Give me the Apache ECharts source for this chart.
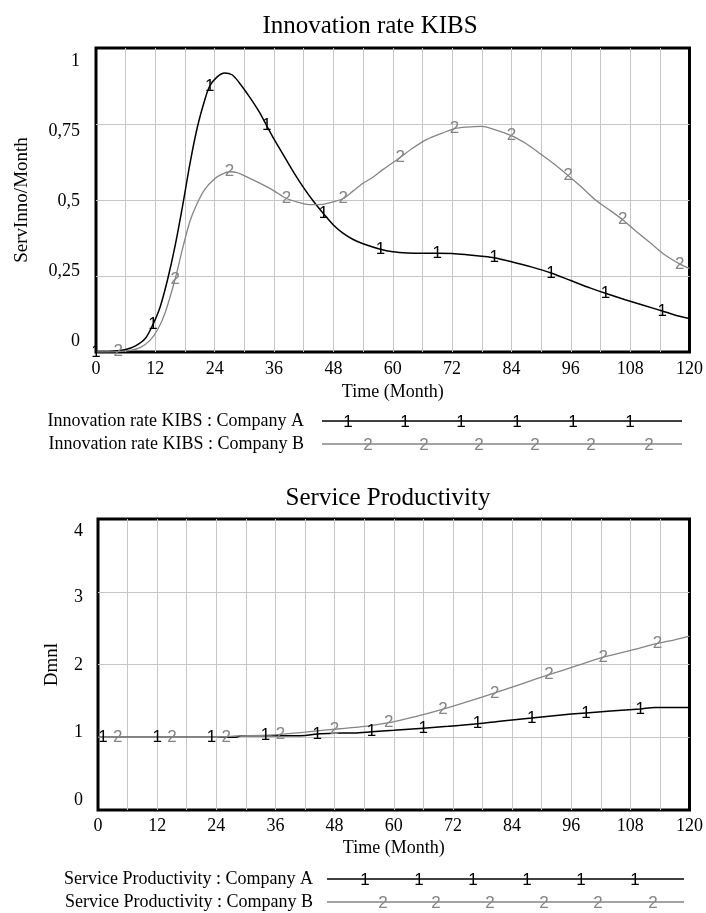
<!DOCTYPE html>
<html>
<head>
<meta charset="utf-8">
<title>Innovation rate KIBS / Service Productivity</title>
<script src="https://cdn.jsdelivr.net/npm/echarts@6/dist/echarts.min.js"></script>
<style>
  html, body { margin: 0; padding: 0; background: #fff; }
  #chart { width: 706px; height: 913px; }
</style>
</head>
<body>
<div id="chart"></div>
<script>
// time axis, shared by both panels
const monthTicks = [0, 12, 24, 36, 48, 60, 72, 84, 96, 108, 120]
const innoTickLabels = ['0', '0,25', '0,5', '0,75', '1']
const prodTickLabels = ['0', '1', '2', '3', '4']

// Innovation rate KIBS (ServInno/Month)
const innoMonthsA = [0, 3, 6, 8, 10, 11.5, 13, 14.5, 16, 17.5, 19, 20.5, 22, 23, 24.5, 26, 27.5, 29, 31, 33, 34.5, 36, 38, 40, 42, 44, 46, 48, 50, 52, 54, 57.5, 60, 63, 66, 69, 72, 75, 78, 80.5, 84, 88, 92, 96, 100, 103, 107, 111, 114.5, 117, 120]
const innoValuesA = [0, 0.002, 0.008, 0.02, 0.045, 0.09, 0.15, 0.24, 0.35, 0.48, 0.62, 0.74, 0.83, 0.875, 0.905, 0.918, 0.912, 0.885, 0.84, 0.79, 0.745, 0.7, 0.645, 0.59, 0.54, 0.495, 0.455, 0.418, 0.39, 0.37, 0.356, 0.338, 0.33, 0.326, 0.325, 0.325, 0.324, 0.32, 0.315, 0.31, 0.297, 0.28, 0.26, 0.235, 0.21, 0.193, 0.172, 0.152, 0.135, 0.122, 0.11]
const innoMarksA = [0, 11.5, 23, 34.5, 46, 57.5, 69, 80.5, 92, 103, 114.5]

const innoMonthsB = [0, 4.5, 7, 9, 11, 12.5, 14, 16, 17.5, 19, 20.5, 22, 24, 25.5, 27, 28.5, 31, 34, 36, 38.5, 41, 43, 45, 47, 50, 52, 54, 56, 58, 61.5, 64, 67, 70, 72.5, 75, 78, 80, 84, 87, 90, 92.5, 95.5, 98, 101, 104, 106.5, 109, 112, 115, 118, 120]
const innoValuesB = [0, 0.001, 0.005, 0.015, 0.04, 0.075, 0.13, 0.24, 0.34, 0.43, 0.49, 0.535, 0.57, 0.585, 0.593, 0.59, 0.572, 0.548, 0.53, 0.505, 0.492, 0.485, 0.485, 0.49, 0.505, 0.53, 0.555, 0.575, 0.6, 0.64, 0.67, 0.7, 0.72, 0.735, 0.74, 0.742, 0.735, 0.712, 0.685, 0.65, 0.62, 0.58, 0.545, 0.5, 0.465, 0.435, 0.4, 0.36, 0.32, 0.29, 0.275]
const innoMarksB = [4.5, 16, 27, 38.5, 50, 61.5, 72.5, 84, 95.5, 106.5, 118]

// Service Productivity (Dmnl)
const prodMonthsA = [0, 1, 12, 23, 28, 29, 34, 40, 42, 44.5, 48, 52, 55.5, 60, 66, 71, 77, 82, 88, 93, 99, 104, 110, 113, 120]
const prodValuesA = [1, 1, 1, 1, 1, 1.02, 1.02, 1.02, 1.025, 1.045, 1.055, 1.06, 1.075, 1.095, 1.125, 1.15, 1.185, 1.225, 1.265, 1.3, 1.335, 1.36, 1.39, 1.41, 1.41]
const prodMarksA = [1, 12, 23, 34, 44.5, 55.5, 66, 77, 88, 99, 110]

const prodMonthsB = [0, 4, 15, 24, 26, 28, 33, 37, 42, 45, 48, 52, 55, 59, 62, 66, 70, 75, 80.5, 86, 91.5, 97, 102.5, 106, 109, 113.5, 117, 120]
const prodValuesB = [1, 1, 1, 1, 1.005, 1.02, 1.025, 1.04, 1.07, 1.09, 1.11, 1.135, 1.155, 1.2, 1.245, 1.31, 1.385, 1.49, 1.61, 1.735, 1.86, 1.98, 2.1, 2.16, 2.21, 2.29, 2.34, 2.39]
const prodMarksB = [4, 15, 26, 37, 48, 59, 70, 80.5, 91.5, 102.5, 113.5]

const SERIF = 'Liberation Serif'
const SANS = 'Liberation Sans'
const BLACK = '#000'
const GREY = '#858585'

// vensim-style legend sample: a long line with the run number repeated on it
function legendIcon(w, h, x1, x2, marks, digit, color) {
  let svg = `<svg xmlns="http://www.w3.org/2000/svg" width="${w}" height="${h}">`
  svg += `<line x1="${x1}" y1="${h / 2}" x2="${x2}" y2="${h / 2}" stroke="${color}" stroke-width="1.5"/>`
  marks.forEach((x) => {
    svg += `<text x="${x}" y="${h / 2 + 6}" font-family="${SANS}, Arial, sans-serif" font-size="17" fill="${color}" text-anchor="middle">${digit}</text>`
  })
  svg += '</svg>'
  return 'image://data:image/svg+xml;charset=utf-8,' + encodeURIComponent(svg)
}

function runSeries(name, months, values, marks, digit, color, width, idx) {
  return {
    name: name,
    type: 'line',
    xAxisIndex: idx,
    yAxisIndex: idx,
    smooth: 0.3,
    symbol: 'circle',
    symbolSize: 1,
    showSymbol: true,
    itemStyle: { color: 'rgba(0,0,0,0)' },
    lineStyle: { color: color, width: width },
    label: { show: false },
    emphasis: { disabled: true },
    data: months.map((m, i) =>
      marks.includes(m)
        ? {
            value: [m, values[i]],
            label: {
              show: true,
              position: 'inside',
              formatter: digit,
              color: color,
              fontSize: 17,
              fontFamily: SANS,
            },
          }
        : [m, values[i]],
    ),
  }
}

// y labels in the original drift off their grid lines (low ones up, high ones down)
function yLabels(labels, lo, hi) {
  const rich = {}
  labels.forEach((t, i) => {
    const s = Math.round(lo + (hi - lo) * (i / (labels.length - 1)))
    rich['r' + i] = {
      fontSize: 18,
      fontFamily: SERIF,
      color: BLACK,
      padding: s >= 0 ? [2 * s, 0, 0, 0] : [0, 0, -2 * s, 0],
    }
  })
  return {
    rich: rich,
    formatter: (val, i) => '{r' + i + '|' + labels[i] + '}',
  }
}

function xAxis(idx, nameGap, margin) {
  return {
    type: 'value',
    gridIndex: idx,
    min: 0,
    max: 120,
    interval: 6,
    name: 'Time (Month)',
    nameLocation: 'middle',
    nameGap: nameGap,
    nameTextStyle: { fontFamily: SERIF, fontSize: 18, color: BLACK },
    axisLine: { show: false },
    axisTick: { show: false },
    axisLabel: {
      margin: margin,
      fontFamily: SERIF,
      fontSize: 18,
      color: BLACK,
      formatter: (v) => (monthTicks.includes(v) ? String(v) : ''),
    },
    splitLine: {
      show: true,
      showMinLine: false,
      showMaxLine: false,
      lineStyle: { color: '#c6c6c6', width: 1 },
    },
  }
}

function yAxis(idx, max, interval, name, nameGap, margin, labels, lo, hi) {
  const lab = yLabels(labels, lo, hi)
  return {
    type: 'value',
    gridIndex: idx,
    min: 0,
    max: max,
    interval: interval,
    name: name,
    nameLocation: 'middle',
    nameRotate: 90,
    nameGap: nameGap,
    nameTextStyle: { fontFamily: SERIF, fontSize: 19, color: BLACK },
    axisLine: { show: false },
    axisTick: { show: false },
    axisLabel: { margin: margin, formatter: lab.formatter, rich: lab.rich },
    splitLine: {
      show: true,
      showMinLine: false,
      showMaxLine: false,
      lineStyle: { color: '#c6c6c6', width: 1 },
    },
  }
}

const innoA = 'Innovation rate KIBS : Company A'
const innoB = 'Innovation rate KIBS : Company B'
const prodA = 'Service Productivity : Company A'
const prodB = 'Service Productivity : Company B'

const legendText = { fontFamily: SERIF, fontSize: 18, color: BLACK }

const myChart = echarts.init(document.getElementById('chart'), null, { renderer: 'canvas' })
myChart.setOption({
  animation: false,
  backgroundColor: '#fff',
  title: [
    {
      text: 'Innovation rate KIBS',
      left: 365,
      top: 9,
      textAlign: 'center',
      textStyle: { fontFamily: SERIF, fontSize: 25, fontWeight: 'normal', color: BLACK },
    },
    {
      text: 'Service Productivity',
      left: 383,
      top: 481,
      textAlign: 'center',
      textStyle: { fontFamily: SERIF, fontSize: 25, fontWeight: 'normal', color: BLACK },
    },
  ],
  grid: [
    { left: 96, top: 48, width: 594, height: 304, show: true, borderColor: BLACK, borderWidth: 3, backgroundColor: '#fff' },
    { left: 98, top: 519, width: 594, height: 291, show: true, borderColor: BLACK, borderWidth: 3, backgroundColor: '#fff' },
  ],
  xAxis: [xAxis(0, 31, 8), xAxis(1, 29, 7)],
  yAxis: [
    yAxis(0, 1, 0.25, 'ServInno/Month', 64, 16, innoTickLabels, -11.5, 13),
    yAxis(1, 4, 1, 'Dmnl', 36, 15, prodTickLabels, -10.5, 12),
  ],
  legend: [
    {
      orient: 'vertical',
      align: 'right',
      right: 19,
      top: 412,
      padding: 0,
      itemGap: 5,
      itemWidth: 378,
      itemHeight: 18,
      selectedMode: false,
      textStyle: legendText,
      data: [
        { name: innoA, icon: legendIcon(378, 18, 13, 373, [39, 96, 152, 208, 264, 321], '1', BLACK) },
        { name: innoB, icon: legendIcon(378, 18, 13, 373, [59, 115, 170, 226, 282, 340], '2', GREY) },
      ],
    },
    {
      orient: 'vertical',
      align: 'right',
      right: 18,
      top: 870,
      padding: 0,
      itemGap: 5,
      itemWidth: 370,
      itemHeight: 18,
      selectedMode: false,
      textStyle: legendText,
      data: [
        { name: prodA, icon: legendIcon(370, 18, 9, 366, [47, 101, 155, 209, 263, 317], '1', BLACK) },
        { name: prodB, icon: legendIcon(370, 18, 9, 366, [65, 118, 172, 226, 280, 335], '2', GREY) },
      ],
    },
  ],
  series: [
    runSeries(innoA, innoMonthsA, innoValuesA, innoMarksA, '1', BLACK, 1.5, 0),
    runSeries(innoB, innoMonthsB, innoValuesB, innoMarksB, '2', GREY, 1.3, 0),
    runSeries(prodA, prodMonthsA, prodValuesA, prodMarksA, '1', BLACK, 1.5, 1),
    runSeries(prodB, prodMonthsB, prodValuesB, prodMarksB, '2', GREY, 1.3, 1),
  ],
})
</script>
</body>
</html>
